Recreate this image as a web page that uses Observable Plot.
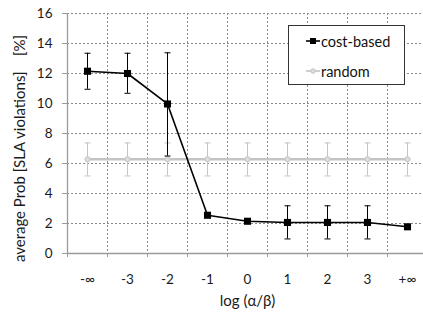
<!DOCTYPE html>
<html>
<head>
<meta charset="utf-8">
<script src="https://cdn.jsdelivr.net/npm/d3@7"></script>
<script src="https://cdn.jsdelivr.net/npm/@observablehq/plot@0.6"></script>
<style>
  html, body { margin: 0; padding: 0; background: #fff; }
  #chart { position: relative; width: 423px; height: 320px; overflow: hidden; font-family: Lato, "Open Sans", sans-serif; }
  #legend { position: absolute; left: 288px; top: 25px; width: 117px; height: 60px; box-sizing: border-box;
            border: 1px solid #333; background: #fff; font-size: 14.5px; color: #111; }
  .entry { position: absolute; left: 16px; height: 16px; display: flex; align-items: center; }
  .entry svg { margin-right: 1px; }
</style>
</head>
<body>
<div id="chart"></div>
<script>
// ---- data ----
const categories = ["-∞", "-3", "-2", "-1", "0", "1", "2", "3", "+∞"];
const seriesNames = ["cost-based", "random"];
const costValues = [12.15, 12.0, 9.97, 2.55, 2.15, 2.07, 2.07, 2.07, 1.78];
const costHigh   = [13.35, 13.35, 13.38, null, null, 3.18, 3.18, 3.18, 1.93];
const costLow    = [10.95, 10.68, 6.5, null, null, 0.97, 0.97, 0.97, 1.62];
const randomValues = [6.28, 6.28, 6.28, 6.28, 6.28, 6.28, 6.28, 6.28, 6.28];
const randomHigh   = [7.37, 7.37, 7.37, 7.37, 7.37, 7.37, 7.37, 7.37, 7.37];
const randomLow    = [5.17, 5.17, 5.17, 5.17, 5.17, 5.17, 5.17, 5.17, 5.17];
const yTicks = [0, 2, 4, 6, 8, 10, 12, 14, 16];
const xTitle = "log (α/β)";
const yTitle = "average Prob [SLA violations]\u00a0\u00a0\u00a0\u00a0[%]";

// ---- tables for Plot ----
const costData = categories.map((c, i) => ({i, c, v: costValues[i], hi: costHigh[i], lo: costLow[i]}));
const randData = categories.map((c, i) => ({i, c, v: randomValues[i], hi: randomHigh[i], lo: randomLow[i]}));
const costErr = costData.filter(d => d.hi != null);
const idx = categories.map((c, i) => i);
const bounds = categories.map((c, i) => i - 0.5).concat([categories.length - 0.5]);

const cap = {draw(ctx, size) { const r = Math.sqrt(size / Math.PI); ctx.moveTo(-r, 0); ctx.lineTo(r, 0); }};

const axisGray = "#9a9a9a";
const gridGray = "#8a8a8a";
const randGray = "#c4c4c4";

const plot = Plot.plot({
  width: 423, height: 320,
  marginLeft: 67, marginRight: -4, marginTop: 13, marginBottom: 67,
  x: {domain: [-0.5, categories.length - 0.5]},
  y: {domain: [0, 16]},
  style: {fontFamily: "Lato, 'Open Sans', sans-serif", fontSize: "13px", color: "#1a1a1a", background: "transparent"},
  marks: [
    Plot.gridY(yTicks.filter(t => t > 0), {stroke: gridGray, strokeOpacity: 1, strokeDasharray: "2,2"}),
    Plot.gridX(bounds.slice(1), {stroke: gridGray, strokeOpacity: 1, strokeDasharray: "2,2"}),
    Plot.ruleY([0], {stroke: axisGray, strokeWidth: 1.3}),
    Plot.ruleX([bounds[0]], {stroke: axisGray, strokeWidth: 1.3}),
    Plot.axisY(yTicks, {tickSize: 5, tickPadding: 10, stroke: axisGray, label: null, fontSize: 13.5}),
    Plot.axisX(bounds, {tickSize: 4, stroke: axisGray, tickFormat: () => "", label: null}),
    Plot.axisX(idx, {tickSize: 0, tickPadding: 21, tickFormat: i => categories[i], label: null, fontSize: 13.5}),
    Plot.text([xTitle], {frameAnchor: "bottom", dy: 48, lineAnchor: "middle", textAnchor: "middle", fontSize: 15, fill: "#1a1a1a"}),
    Plot.text([yTitle], {frameAnchor: "left", dx: -47, dy: 15, rotate: -90, lineAnchor: "middle", textAnchor: "middle", fontSize: 15, fill: "#1a1a1a"}),
    // random series
    Plot.ruleX(randData, {x: "i", y1: "lo", y2: "hi", stroke: randGray, strokeWidth: 1}),
    Plot.dot(randData, {x: "i", y: "hi", symbol: cap, r: 3, stroke: randGray, strokeWidth: 1}),
    Plot.dot(randData, {x: "i", y: "lo", symbol: cap, r: 3, stroke: randGray, strokeWidth: 1}),
    Plot.line(randData, {x: "i", y: "v", stroke: randGray, strokeWidth: 2.5}),
    Plot.dot(randData, {x: "i", y: "v", r: 2.6, fill: "#dcdcdc", stroke: randGray, strokeWidth: 1}),
    // cost-based series
    Plot.ruleX(costErr, {x: "i", y1: "lo", y2: "hi", stroke: "#000", strokeWidth: 1}),
    Plot.dot(costErr, {x: "i", y: "hi", symbol: cap, r: 3, stroke: "#000", strokeWidth: 1}),
    Plot.dot(costErr, {x: "i", y: "lo", symbol: cap, r: 3, stroke: "#000", strokeWidth: 1}),
    Plot.line(costData, {x: "i", y: "v", stroke: "#000", strokeWidth: 1.6}),
    Plot.dot(costData, {x: "i", y: "v", symbol: "square", r: 4, fill: "#000", stroke: "none"})
  ]
});

const chart = document.getElementById("chart");
chart.appendChild(plot);

// legend
const legend = document.createElement("div");
legend.id = "legend";
const styles = [
  {stroke: "#000", width: 1.6, marker: '<rect x="5" y="5" width="6" height="6" fill="#000"/>'},
  {stroke: randGray, width: 1.6, marker: '<circle cx="8" cy="8" r="2.3" fill="#dcdcdc" stroke="' + randGray + '"/>'}
];
seriesNames.forEach((name, k) => {
  const e = document.createElement("div");
  e.className = "entry";
  e.style.top = (k === 0 ? 7 : 37) + "px";
  e.innerHTML = '<svg width="15" height="16"><line x1="1" x2="15" y1="8" y2="8" stroke="' + styles[k].stroke +
    '" stroke-width="' + styles[k].width + '"/>' + styles[k].marker + '</svg><span>' + name + '</span>';
  legend.appendChild(e);
});
chart.appendChild(legend);
</script>
</body>
</html>
